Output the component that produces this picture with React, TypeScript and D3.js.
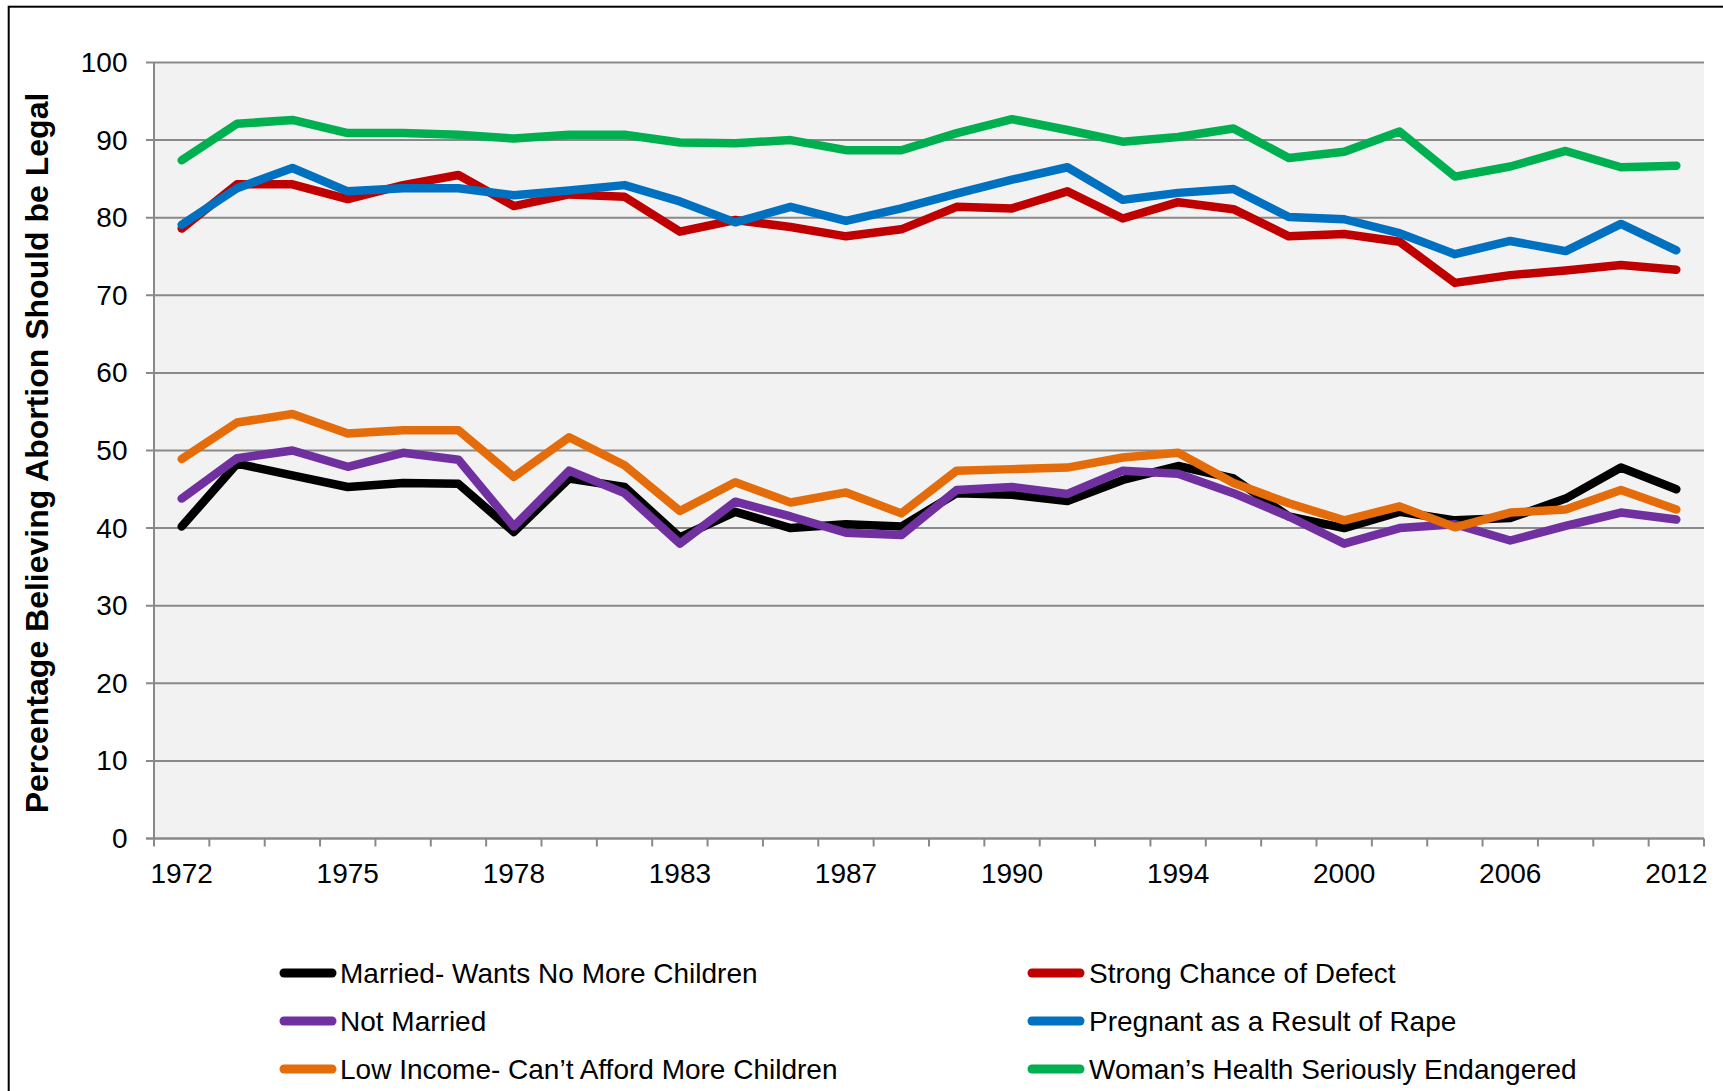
import React from "react";
import * as d3 from "d3";

const years = ["1972","1973","1974","1975","1976","1977","1978","1980","1982","1983","1984","1985","1987","1988","1989","1990","1991","1993","1994","1996","1998","2000","2002","2004","2006","2008","2010","2012"];
const labeledYears = ["1972","1975","1978","1983","1987","1990","1994","2000","2006","2012"];
const yTicks = [0,10,20,30,40,50,60,70,80,90,100];

const married = [40.2,48.3,46.8,45.3,45.8,45.7,39.5,46.4,45.3,38.8,42.1,40.0,40.5,40.2,44.5,44.3,43.5,46.2,48.0,46.4,41.5,40.0,42.1,41.0,41.3,43.8,47.8,45.0];
const notMarried = [43.8,49.0,50.0,47.9,49.7,48.8,40.2,47.4,44.5,38.0,43.4,41.5,39.4,39.1,44.9,45.3,44.4,47.4,47.0,44.5,41.5,38.0,40.0,40.5,38.4,40.3,42.0,41.1];
const lowIncome = [48.9,53.6,54.7,52.2,52.6,52.6,46.6,51.7,48.1,42.2,45.9,43.3,44.6,41.9,47.4,47.6,47.8,49.1,49.7,45.8,43.2,41.0,42.8,40.1,42.0,42.4,44.9,42.4];
const defect = [78.6,84.3,84.3,82.4,84.2,85.5,81.5,83.0,82.7,78.2,79.7,78.8,77.6,78.5,81.4,81.2,83.4,79.9,82.0,81.1,77.6,77.9,76.9,71.6,72.6,73.2,73.9,73.3];
const rape = [79.1,83.8,86.4,83.4,83.8,83.8,82.9,83.5,84.2,82.1,79.4,81.4,79.6,81.2,83.1,84.9,86.5,82.3,83.2,83.7,80.1,79.8,78.0,75.3,77.0,75.7,79.2,75.8];
const health = [87.4,92.1,92.6,90.9,90.9,90.7,90.2,90.7,90.7,89.7,89.6,90.0,88.7,88.7,90.9,92.7,91.3,89.8,90.4,91.5,87.7,88.5,91.1,85.3,86.6,88.6,86.5,86.7];

const seriesNames = [
  "Married- Wants No More Children",
  "Not Married",
  "Low Income- Can\u2019t Afford More Children",
  "Strong Chance of Defect",
  "Pregnant as a Result of Rape",
  "Woman\u2019s Health Seriously Endangered",
];
const seriesValues = [married, notMarried, lowIncome, defect, rape, health];
const seriesColors = ["#000000", "#7030a0", "#e46c0a", "#c00000", "#0070c0", "#00b050"];

const W = 1723;
const H = 1091;
const plot = { left: 154, right: 1704, top: 62.5, bottom: 838.5 };
const FONT = "'Liberation Sans', Arial, sans-serif";
const GRID = "#898989";

export default function App() {
  const x = d3.scaleBand<string>().domain(years).range([plot.left, plot.right]);
  const y = d3.scaleLinear().domain([0, 100]).range([plot.bottom, plot.top]);
  const cx = (i: number) => (x(years[i]) as number) + x.bandwidth() / 2;
  const line = d3
    .line<number>()
    .x((_, i) => cx(i))
    .y((d) => y(d));

  const boundaries = years.map((yr) => x(yr) as number).concat([plot.right]);

  const legendCols = [
    { x0: 284, tx: 340 },
    { x0: 1032, tx: 1089 },
  ];
  const legendRows = [973, 1021, 1069];

  return (
    <svg
      width={W}
      height={H}
      style={{ position: "absolute", left: 0, top: 0, display: "block" }}
      fontFamily={FONT}
    >
      <rect x={0} y={0} width={W} height={H} fill="#ffffff" />
      <rect x={8.7} y={6.7} width={W + 20} height={H + 20} fill="none" stroke="#000" strokeWidth={2} />

      <rect
        x={plot.left}
        y={plot.top}
        width={plot.right - plot.left}
        height={plot.bottom - plot.top}
        fill="#f2f2f2"
      />

      {yTicks.map((t) => (
        <g key={"g" + t}>
          <line x1={plot.left - 8} x2={plot.right} y1={y(t)} y2={y(t)} stroke={GRID} strokeWidth={2} />
          <text
            x={127.5}
            y={y(t)}
            textAnchor="end"
            dominantBaseline="central"
            fontSize={28}
            fill="#000"
          >
            {t}
          </text>
        </g>
      ))}

      <line x1={plot.left} x2={plot.left} y1={plot.top} y2={plot.bottom} stroke={GRID} strokeWidth={2} />
      <line x1={plot.left - 8} x2={plot.right} y1={plot.bottom} y2={plot.bottom} stroke={GRID} strokeWidth={2} />

      {boundaries.map((bx, i) => (
        <line key={"t" + i} x1={bx} x2={bx} y1={plot.bottom} y2={plot.bottom + 8} stroke={GRID} strokeWidth={2} />
      ))}

      {years.map((yr, i) =>
        labeledYears.includes(yr) ? (
          <text key={"xl" + yr} x={cx(i)} y={883} textAnchor="middle" fontSize={28} fill="#000">
            {yr}
          </text>
        ) : null
      )}

      <text
        transform={`translate(48, 453) rotate(-90)`}
        textAnchor="middle"
        fontSize={32}
        fontWeight="bold"
        fill="#000"
      >
        Percentage Believing Abortion Should be Legal
      </text>

      {seriesValues.map((vals, s) => (
        <path
          key={"s" + s}
          d={line(vals) || ""}
          fill="none"
          stroke={seriesColors[s]}
          strokeWidth={8.5}
          strokeLinejoin="round"
          strokeLinecap="round"
        />
      ))}

      {seriesNames.map((name, s) => {
        const col = legendCols[Math.floor(s / 3)];
        const ry = legendRows[s % 3];
        return (
          <g key={"lg" + s}>
            <line
              x1={col.x0}
              x2={col.x0 + 48}
              y1={ry}
              y2={ry}
              stroke={seriesColors[s]}
              strokeWidth={9}
              strokeLinecap="round"
            />
            <text x={col.tx} y={ry} dominantBaseline="central" fontSize={28} fill="#000">
              {name}
            </text>
          </g>
        );
      })}
    </svg>
  );
}
